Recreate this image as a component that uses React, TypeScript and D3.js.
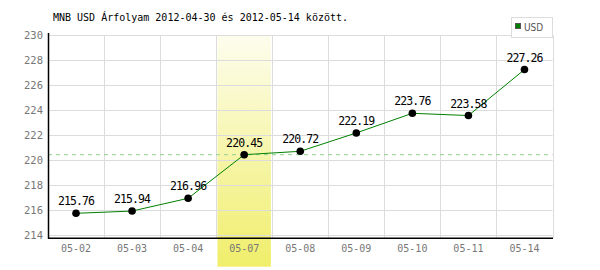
import React from "react";
import * as d3 from "d3";

const categories = ["05-02", "05-03", "05-04", "05-07", "05-08", "05-09", "05-10", "05-11", "05-14"];
const values = [215.76, 215.94, 216.96, 220.45, 220.72, 222.19, 223.76, 223.58, 227.26];
const yTicks = [214, 216, 218, 220, 222, 224, 226, 228, 230];
const highlightCategory = "05-07";
const referenceValue = 220.45;
const title = "MNB USD Árfolyam 2012-04-30 és 2012-05-14 között.";
const seriesName = "USD";

export default function App() {
  const W = 600, H = 270;
  const left = 48, right = 552.5, top = 35.3, bottom = 235.3, axisY = 238.3;
  const x = d3.scaleBand<string>().domain(categories).range([left, right]);
  const y = d3.scaleLinear().domain([214, 230]).range([bottom, top]);
  const line = d3.line<number>().x((_, i) => x(categories[i])! + x.bandwidth() / 2).y((d) => y(d));
  const font = "'DejaVu Sans Mono', monospace";
  const hx = x(highlightCategory)!;
  return (
    <svg width={W} height={H} style={{ position: "absolute", left: 0, top: 0 }}>
      <defs>
        <linearGradient id="hl" x1="0" y1="0" x2="0" y2="1">
          <stop offset="0" stopColor="#fdfdee" />
          <stop offset="1" stopColor="#f0ee6a" />
        </linearGradient>
      </defs>
      <rect x={0} y={0} width={W} height={H} fill="#fff" />
      <rect x={hx + 1.3} y={top} width={x.bandwidth() - 2.6} height={266.7 - top} fill="url(#hl)" />
      {yTicks.map((t) => (
        <line key={t} x1={left} x2={right} y1={Math.round(y(t)) + 0.5} y2={Math.round(y(t)) + 0.5} stroke="#dcdcdc" strokeWidth={1} />
      ))}
      {categories.map((c) => (
        <line key={c} x1={Math.round(x(c)! + x.bandwidth()) + 0.5} x2={Math.round(x(c)! + x.bandwidth()) + 0.5} y1={top} y2={axisY} stroke="#dcdcdc" strokeWidth={1} />
      ))}
      <line x1={left} x2={right} y1={y(referenceValue)} y2={y(referenceValue)} stroke="#90d090" strokeDasharray="4,4" strokeWidth={1} />
      <line x1={left + 0.5} x2={left + 0.5} y1={33} y2={axisY + 0.5} stroke="#000" strokeWidth={1.5} />
      <line x1={left} x2={right + 0.5} y1={axisY} y2={axisY} stroke="#000" strokeWidth={1.5} />
      {yTicks.map((t) => (
        <text key={t} x={43} y={y(t)} dy="0.35em" textAnchor="end" fontFamily={font} fontSize={10.5} fill="#777">{t}</text>
      ))}
      {categories.map((c) => (
        <text key={c} x={x(c)! + x.bandwidth() / 2} y={248} dy="0.35em" textAnchor="middle" fontFamily={font} fontSize={10} fill="#777">{c}</text>
      ))}
      <path d={line(values)!} fill="none" stroke="#008000" strokeWidth={1} />
      {values.map((v, i) => (
        <g key={i}>
          <circle cx={x(categories[i])! + x.bandwidth() / 2} cy={y(v)} r={3.8} fill="#000" />
          <text x={x(categories[i])! + x.bandwidth() / 2} y={y(v) - 8} textAnchor="middle" fontFamily={font} fontSize={11.5} letterSpacing={-0.9} fill="#000">{v.toFixed(2)}</text>
        </g>
      ))}
      <text x={53} y={21} fontFamily={font} fontSize={10} fill="#000">{title}</text>
      <rect x={511.5} y={17.5} width={41} height={20} fill="#fff" stroke="#dcdcdc" strokeWidth={1} />
      <rect x={515.5} y={23.5} width={5} height={5} fill="#008000" stroke="#555" strokeWidth={1} />
      <text x={524} y={27} dy="0.35em" fontFamily="'DejaVu Sans Condensed', sans-serif" fontSize={10} fill="#555">{seriesName}</text>
    </svg>
  );
}
